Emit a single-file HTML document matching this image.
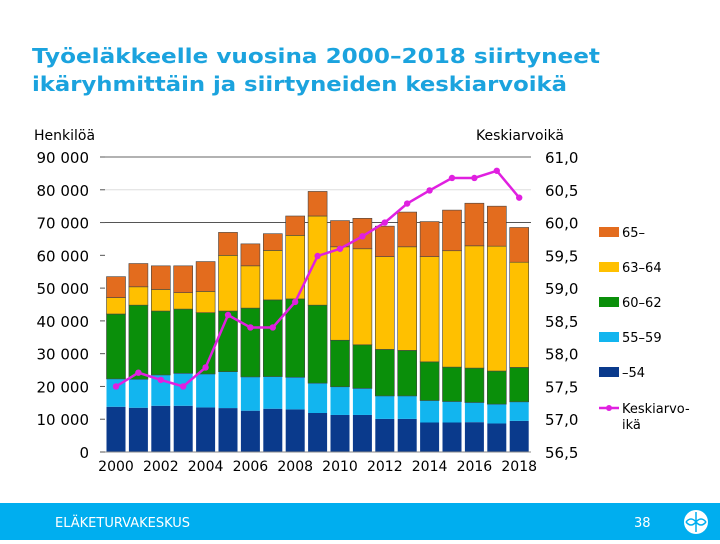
<!DOCTYPE html>
<html><head><meta charset="utf-8"><style>
body{margin:0;width:720px;height:540px;overflow:hidden;background:#fff;font-family:"DejaVu Sans","Liberation Sans",sans-serif}
</style></head><body>
<svg width="720" height="540" xmlns="http://www.w3.org/2000/svg" id="svg">
<text x="32" y="63" font-size="20" font-weight="bold" fill="#1ba3de" textLength="568" lengthAdjust="spacingAndGlyphs">Työeläkkeelle vuosina 2000–2018 siirtyneet</text>
<text x="32" y="91" font-size="20" font-weight="bold" fill="#1ba3de" textLength="535" lengthAdjust="spacingAndGlyphs">ikäryhmittäin ja siirtyneiden keskiarvoikä</text>
<text x="34" y="140" font-size="14" fill="#000">Henkilöä</text>
<text x="476" y="140" font-size="14" fill="#000">Keskiarvoikä</text>
<g id="grid"></g><g id="bars"></g><g id="line"></g><g id="axes"></g><g id="legend"></g>
<rect x="0" y="503" width="720" height="37" fill="#00aeef"/>
<text x="55" y="527" font-size="13" fill="#fff">ELÄKETURVAKESKUS</text>
<text x="634" y="527" font-size="13" fill="#fff">38</text>
<g><circle cx="696" cy="522" r="12" fill="#fff"/><path d="M686 522 Q691 516 696 522 Q701 528 706 522 M686 522 Q691 528 696 522 Q701 516 706 522 M696 512 L696 532" stroke="#00aeef" stroke-width="1.5" fill="none"/></g>
</svg>
<script>
const years=[2000,2001,2002,2003,2004,2005,2006,2007,2008,2009,2010,2011,2012,2013,2014,2015,2016,2017,2018];
const s54=[13800,13500,14100,14100,13600,13400,12600,13200,13000,11900,11300,11300,10100,10100,9000,9000,9100,8700,9500];
const s5559=[8500,8700,9400,9900,10200,11100,10300,9800,9800,9100,8600,8100,7000,7000,6700,6400,6000,5900,5800];
const s6062=[19800,22600,19500,19600,18700,18500,21000,23400,23900,23800,14200,13300,14200,13900,11800,10500,10500,10100,10500];
const s6364=[5000,5600,6600,5000,6500,17000,12900,15100,19400,27200,28500,29300,28300,31600,32100,35500,37300,38100,32100];
const s65=[6400,7100,7200,8200,9100,7000,6700,5100,5900,7500,8000,9300,9300,10600,10700,12400,13000,12200,10600];
const avgAge=[57.50,57.71,57.60,57.50,57.79,58.59,58.40,58.40,58.79,59.49,59.60,59.79,60.00,60.29,60.49,60.68,60.68,60.79,60.38];
const leftTicks=[0,10000,20000,30000,40000,50000,60000,70000,80000,90000];
const rightTicks=[56.5,57.0,57.5,58.0,58.5,59.0,59.5,60.0,60.5,61.0];
const seriesNames=["65–","63–64","60–62","55–59","–54"];
const NS="http://www.w3.org/2000/svg";
const y0=452,y1=157;
const yL=v=>y0-(v/90000)*(y0-y1);
const yR=v=>y0-((v-56.5)/4.5)*(y0-y1);
const xC=i=>116+i*22.4;
const bw=19;
function mk(tag,attrs,parent){const e=document.createElementNS(NS,tag);for(const k in attrs)e.setAttribute(k,attrs[k]);document.getElementById(parent).appendChild(e);return e;}
// grid
[[90000,"#666"],[80000,"#ddd"],[70000,"#555"]].forEach(g=>{const l=mk('line',{x1:105,x2:531,y1:yL(g[0]),y2:yL(g[0]),stroke:g[1],'stroke-width':1},'grid');

});
leftTicks.forEach(v=>{const l=mk('line',{x1:100,x2:105,y1:yL(v),y2:yL(v),stroke:'#555'},'grid');


const t=mk('text',{x:89,y:yL(v)+6,'font-size':15,'text-anchor':'end',fill:'#000'},'axes');t.textContent=v===0?'0':(v/1000)+' 000';

});
rightTicks.forEach(v=>{const t=mk('text',{x:545,y:yR(v)+6,'font-size':15,fill:'#000'},'axes');t.textContent=v.toFixed(1).replace('.',',');

});
const cols=["#0a3a8c","#12b5ef","#0a8f0a","#ffc000","#e36c1e"];
const stacks=[s54,s5559,s6062,s6364,s65];
years.forEach((yr,i)=>{let acc=0;stacks.forEach((s,k)=>{const top=acc+s[i];const r=mk('rect',{x:xC(i)-bw/2,y:yL(top),width:bw,height:yL(acc)-yL(top),fill:cols[k],stroke:k>=2?'#444':'none','stroke-width':0.6},'bars');

acc=top;});
if(i%2===0){const t=mk('text',{x:xC(i),y:471,'font-size':14,'text-anchor':'middle',fill:'#000'},'axes');t.textContent=yr;

}});
const ax=mk('line',{x1:105,x2:531,y1:y0,y2:y0,stroke:'#888'},'axes');


const pl=mk('polyline',{points:avgAge.map((v,i)=>xC(i)+','+yR(v)).join(' '),fill:'none',stroke:'#e020e0','stroke-width':2.5},'line');


avgAge.forEach((v,i)=>{const c=mk('circle',{cx:xC(i),cy:yR(v),r:3.2,fill:'#e020e0'},'line');

});
// legend
const legCols=["#e36c1e","#ffc000","#0a8f0a","#12b5ef","#0a3a8c"];
seriesNames.forEach((n,k)=>{const y=232+k*35;const r=mk('rect',{x:599,y:y-5,width:20,height:10,fill:legCols[k]},'legend');


const t=mk('text',{x:622,y:y+5,'font-size':13,fill:'#000'},'legend');t.textContent=n;

});
const ll=mk('line',{x1:599,x2:619,y1:408,y2:408,stroke:'#e020e0','stroke-width':2.5},'legend');


mk('circle',{cx:609,cy:408,r:3,fill:'#e020e0'},'legend');
const t1=mk('text',{x:622,y:413,'font-size':13,fill:'#000'},'legend');t1.textContent='Keskiarvo-';


const t2=mk('text',{x:622,y:429,'font-size':13,fill:'#000'},'legend');t2.textContent='ikä';


</script>
</body></html>
